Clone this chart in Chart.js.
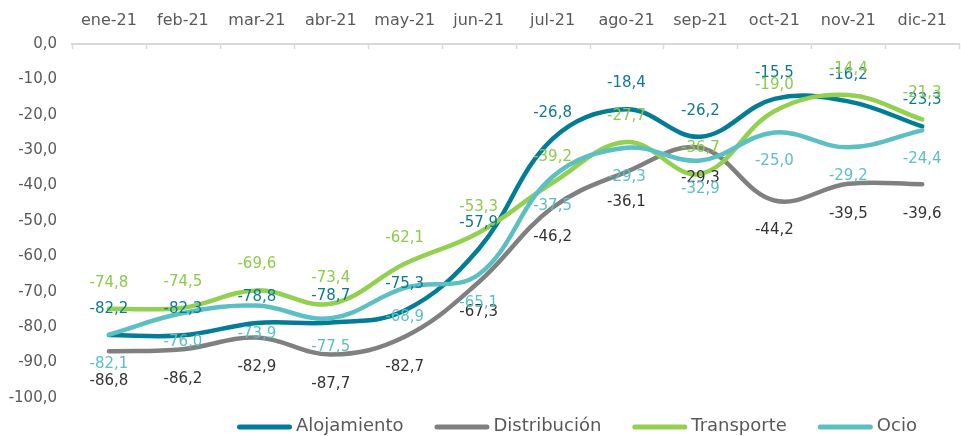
<!DOCTYPE html>
<html><head><meta charset="utf-8">
<script src="https://cdn.jsdelivr.net/npm/chart.js@4/dist/chart.umd.min.js"></script>
<style>html,body{margin:0;padding:0;background:#fff;overflow:hidden}</style>
</head><body>
<canvas id="c" width="961" height="436"></canvas>
<script>
const categories = ['ene-21','feb-21','mar-21','abr-21','may-21','jun-21','jul-21','ago-21','sep-21','oct-21','nov-21','dic-21'];
const alojamiento  = [-82.2,-82.3,-78.8,-78.7,-75.3,-57.9,-26.8,-18.4,-26.2,-15.5,-16.2,-23.3];
const distribucion = [-86.8,-86.2,-82.9,-87.7,-82.7,-67.3,-46.2,-36.1,-29.3,-44.2,-39.5,-39.6];
const transporte   = [-74.8,-74.5,-69.6,-73.4,-62.1,-53.3,-39.2,-27.7,-36.7,-19.0,-14.4,-21.3];
const ocio         = [-82.1,-76.0,-73.9,-77.5,-68.9,-65.1,-37.5,-29.3,-32.9,-25.0,-29.2,-24.4];
const seriesNames  = ['Alojamiento','Distribución','Transporte','Ocio'];
const yTicks = { min: -100, max: 0, step: 10 };

const fmt = v => v.toFixed(1).replace('.', ',');
const AXIS_FONT = '"DejaVu Sans", sans-serif';

function ds(label, data, color, labelColor, labelOffset, order) {
  return { label, data, borderColor: color, backgroundColor: color, borderWidth: 4.5,
    tension: 0.38, pointRadius: 0, fill: false, labelColor, labelOffset, order,
    borderCapStyle: 'round', borderJoinStyle: 'round' };
}

const valueLabels = {
  id: 'valueLabels',
  afterDatasetsDraw(chart) {
    const ctx = chart.ctx;
    ctx.save();
    ctx.font = '15px ' + AXIS_FONT;
    ctx.textAlign = 'center';
    ctx.textBaseline = 'middle';
    chart.data.datasets.forEach((d, i) => {
      const meta = chart.getDatasetMeta(i);
      ctx.fillStyle = d.labelColor;
      meta.data.forEach((pt, j) => {
        ctx.fillText(fmt(d.data[j]), pt.x, pt.y + d.labelOffset);
      });
    });
    ctx.restore();
  }
};

const innerTicks = {
  id: 'innerTicks',
  afterDraw(chart) {
    const xs = chart.scales.x, ctx = chart.ctx, n = categories.length;
    ctx.save();
    ctx.strokeStyle = '#D9D9D9';
    ctx.lineWidth = 1.5;
    ctx.beginPath();
    for (let i = 0; i <= n; i++) {
      const x = Math.round(xs.left + i * xs.width / n) + 0.5;
      ctx.moveTo(x, chart.chartArea.top);
      ctx.lineTo(x, chart.chartArea.top + 5);
    }
    ctx.stroke();
    ctx.restore();
  }
};

const bottomLegend = {
  id: 'bottomLegend',
  afterDraw(chart) {
    const ctx = chart.ctx;
    const lineLen = 55, gap = 4, spacing = 31;
    ctx.save();
    ctx.font = '18px ' + AXIS_FONT;
    let x = chart.chartArea.left + 165;
    const y = chart.chartArea.bottom + 29;
    ctx.textBaseline = 'middle';
    ctx.textAlign = 'left';
    chart.data.datasets.forEach(d => {
      const w = ctx.measureText(d.label).width;
      ctx.strokeStyle = d.borderColor;
      ctx.lineWidth = 5;
      ctx.lineCap = 'round';
      ctx.beginPath();
      ctx.moveTo(x + 2.5, y);
      ctx.lineTo(x + lineLen - 2.5, y);
      ctx.stroke();
      ctx.fillStyle = '#595959';
      ctx.fillText(d.label, x + lineLen + gap, y - 1);
      x += lineLen + gap + w + spacing;
    });
    ctx.restore();
  }
};

new Chart(document.getElementById('c'), {
  type: 'line',
  data: {
    labels: categories,
    datasets: [
      ds(seriesNames[0], alojamiento,  '#037C96', '#0B7A92', -26, 4),
      ds(seriesNames[1], distribucion, '#808080', '#333333',  30, 3),
      ds(seriesNames[2], transporte,   '#92D050', '#8CCB4A', -26, 2),
      ds(seriesNames[3], ocio,         '#5CBFC4', '#5CBFC4',  29, 1)
    ]
  },
  options: {
    responsive: false,
    animation: false,
    devicePixelRatio: 1,
    layout: { padding: { left: 0, right: -11, top: 0, bottom: 38 } },
    plugins: {
      tooltip: { enabled: false },
      legend: { display: false }
    },
    scales: {
      x: {
        position: 'top',
        offset: true,
        afterFit: s => { s.height = 44; },
        grid: { display: true, drawOnChartArea: false, drawTicks: false, color: 'rgba(0,0,0,0)' },
        border: { display: true, color: '#D9D9D9', width: 2 },
        ticks: { font: { family: AXIS_FONT, size: 16 }, color: '#595959', padding: 14, autoSkip: false, maxRotation: 0 }
      },
      y: {
        min: yTicks.min, max: yTicks.max,
        afterFit: s => { s.width = 72; },
        grid: { display: false, drawTicks: false },
        border: { display: false },
        ticks: { stepSize: yTicks.step, font: { family: AXIS_FONT, size: 15 }, color: '#595959', padding: 15,
          callback: v => fmt(v) }
      }
    }
  },
  plugins: [valueLabels, innerTicks, bottomLegend]
});
</script>
</body></html>
